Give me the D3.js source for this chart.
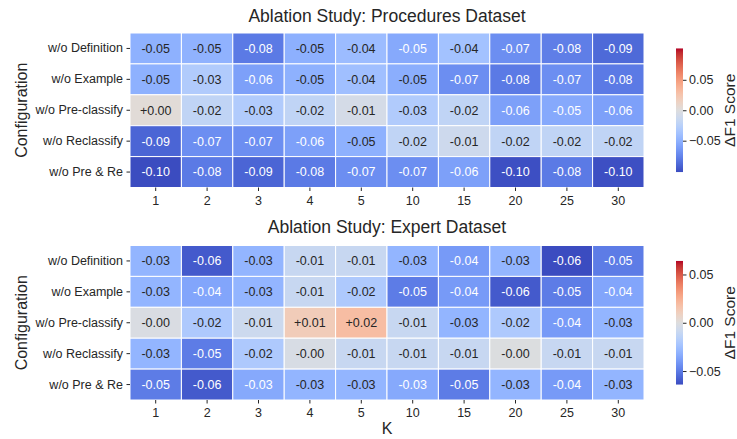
<!DOCTYPE html>
<html>
<head>
<meta charset="utf-8">
<script src="https://cdn.jsdelivr.net/npm/d3@7"></script>
<style>
  body { margin: 0; background: #fff; }
  svg { font-family: "Liberation Sans", Arial, sans-serif; }
  .tick text { fill: #262626; }
  .tick line { stroke: #262626; }
</style>
</head>
<body>
<div id="chart"></div>
<script>
// K values on the x axis, configurations on the y axis
const kValues = [1, 2, 3, 4, 5, 10, 15, 20, 25, 30];
const configs = ["w/o Definition", "w/o Example", "w/o Pre-classify", "w/o Reclassify", "w/o Pre & Re"];

// delta F1 per configuration (rows) and K (columns)
const proceduresDelta = [
    [-0.050, -0.049, -0.080, -0.051, -0.042, -0.0548, -0.038, -0.070, -0.078, -0.088],
    [-0.050, -0.030, -0.060, -0.050, -0.040, -0.052, -0.070, -0.080, -0.070, -0.080],
    [0.003, -0.020, -0.030, -0.020, -0.007, -0.030, -0.020, -0.060, -0.0548, -0.060],
    [-0.090, -0.070, -0.070, -0.060, -0.050, -0.020, -0.012, -0.020, -0.020, -0.020],
    [-0.1015, -0.080, -0.090, -0.080, -0.070, -0.070, -0.060, -0.100, -0.080, -0.100]
];
const expertDelta = [
    [-0.030, -0.060, -0.030, -0.010, -0.010, -0.030, -0.040, -0.030, -0.064, -0.050],
    [-0.030, -0.036, -0.030, -0.010, -0.020, -0.050, -0.040, -0.060, -0.050, -0.036],
    [-0.002, -0.020, -0.008, 0.012, 0.019, -0.010, -0.030, -0.020, -0.040, -0.030],
    [-0.030, -0.050, -0.020, -0.003, -0.010, -0.010, -0.010, -0.001, -0.010, -0.010],
    [-0.050, -0.060, -0.0347, -0.030, -0.030, -0.0347, -0.050, -0.030, -0.040, -0.030]
];
const titles = ["Ablation Study: Procedures Dataset", "Ablation Study: Expert Dataset"];
const cbTicks = [-0.05, 0, 0.05];

// matplotlib "coolwarm" colormap (33 control points)
const coolwarm = [
    [0.2298, 0.2987, 0.7537], [0.2662, 0.3531, 0.8015], [0.3039, 0.4065, 0.8450], [0.3428, 0.4588, 0.8837],
    [0.3830, 0.5094, 0.9174], [0.4244, 0.5581, 0.9456], [0.4667, 0.6046, 0.9682], [0.5096, 0.6483, 0.9848],
    [0.5530, 0.6889, 0.9954], [0.5963, 0.7261, 0.9998], [0.6392, 0.7596, 0.9982], [0.6813, 0.7890, 0.9904],
    [0.7222, 0.8140, 0.9766], [0.7615, 0.8343, 0.9569], [0.7987, 0.8498, 0.9317], [0.8335, 0.8602, 0.9011],
    [0.8654, 0.8654, 0.8654], [0.8978, 0.8489, 0.8209], [0.9241, 0.8274, 0.7745], [0.9445, 0.8009, 0.7267],
    [0.9589, 0.7698, 0.6780], [0.9673, 0.7341, 0.6288], [0.9700, 0.6943, 0.5794], [0.9668, 0.6504, 0.5303],
    [0.9580, 0.6028, 0.4818], [0.9437, 0.5518, 0.4342], [0.9239, 0.4973, 0.3880], [0.8990, 0.4396, 0.3432],
    [0.8692, 0.3783, 0.3003], [0.8346, 0.3129, 0.2593], [0.7956, 0.2413, 0.2205], [0.7525, 0.1572, 0.1841],
    [0.7057, 0.0156, 0.1502]
];
const cwColors = coolwarm.map(c => d3.rgb(c[0] * 255, c[1] * 255, c[2] * 255).formatHex());
const cwInterp = d3.scaleLinear()
    .domain(cwColors.map((_, i) => i / (cwColors.length - 1)))
    .range(cwColors)
    .interpolate(d3.interpolateRgb)
    .clamp(true);

// seaborn style annotation colour
function relLum(c) {
    const f = v => { v /= 255; return v <= 0.03928 ? v / 12.92 : Math.pow((v + 0.055) / 1.055, 2.4); };
    return 0.2126 * f(c.r) + 0.7152 * f(c.g) + 0.0722 * f(c.b);
}

const fmtCell = d3.formatLocale({ decimal: ".", thousands: ",", grouping: [3], currency: ["$", ""], minus: "-" }).format("+.2f");
const fmtTick = d3.format(".2f");

const width = 737, height = 439;
const svg = d3.select("#chart").append("svg")
    .attr("width", width)
    .attr("height", height);

const panels = [
    { data: proceduresDelta, top: 33, bottom: 187.5, titleY: 22, showK: false },
    { data: expertDelta, top: 245.5, bottom: 400, titleY: 233, showK: true }
];

const x = d3.scaleBand().domain(kValues).range([130, 644]);

panels.forEach((p, pi) => {
    const flat = p.data.flat();
    const vr = Math.max(Math.abs(d3.min(flat)), Math.abs(d3.max(flat)));
    const color = v => cwInterp((v + vr) / (2 * vr));

    const y = d3.scaleBand().domain(configs).range([p.top, p.bottom]);
    const g = svg.append("g");

    const cells = [];
    p.data.forEach((row, ri) => row.forEach((v, ci) => cells.push({ conf: configs[ri], k: kValues[ci], v })));

    g.selectAll("rect.cell")
        .data(cells)
        .enter().append("rect")
        .attr("class", "cell")
        .attr("x", d => x(d.k))
        .attr("y", d => y(d.conf))
        .attr("width", x.bandwidth())
        .attr("height", y.bandwidth())
        .attr("fill", d => color(d.v))
        .attr("stroke", "#fff")
        .attr("stroke-width", 1);

    g.selectAll("text.ann")
        .data(cells)
        .enter().append("text")
        .attr("class", "ann")
        .attr("x", d => x(d.k) + x.bandwidth() / 2)
        .attr("y", d => y(d.conf) + y.bandwidth() / 2)
        .attr("dy", "0.35em")
        .attr("text-anchor", "middle")
        .style("font-size", "12.5px")
        .attr("fill", d => relLum(d3.rgb(color(d.v))) > 0.408 ? "#262626" : "#ffffff")
        .text(d => fmtCell(d.v));

    // axes
    const xAxis = g.append("g")
        .attr("transform", `translate(0,${p.bottom})`)
        .call(d3.axisBottom(x).tickSize(3.5).tickPadding(5));
    xAxis.select(".domain").remove();
    xAxis.selectAll("text").style("font-size", "12.5px");

    const yAxis = g.append("g")
        .attr("transform", "translate(130,0)")
        .call(d3.axisLeft(y).tickSize(3.5).tickPadding(3.5));
    yAxis.select(".domain").remove();
    yAxis.selectAll("text").style("font-size", "12.5px");

    svg.append("text")
        .attr("x", (x.range()[0] + x.range()[1]) / 2)
        .attr("y", p.titleY)
        .attr("text-anchor", "middle")
        .attr("fill", "#262626")
        .style("font-size", "17.5px")
        .text(titles[pi]);

    svg.append("text")
        .attr("transform", `translate(27,${(p.top + p.bottom) / 2}) rotate(-90)`)
        .attr("text-anchor", "middle")
        .attr("fill", "#262626")
        .style("font-size", "16px")
        .text("Configuration");

    if (p.showK) {
        svg.append("text")
            .attr("x", (x.range()[0] + x.range()[1]) / 2)
            .attr("y", 434)
            .attr("text-anchor", "middle")
            .attr("fill", "#262626")
            .style("font-size", "16px")
            .text("K");
    }

    // colorbar (80% of heatmap height, centred)
    const hh = p.bottom - p.top;
    const cbTop = p.top + hh * 0.1, cbBot = p.bottom - hh * 0.1;
    const cbX = 676, cbW = 7;
    const gradId = "cbgrad" + pi;
    const grad = svg.append("defs").append("linearGradient")
        .attr("id", gradId)
        .attr("x1", 0).attr("y1", 1).attr("x2", 0).attr("y2", 0);
    grad.selectAll("stop")
        .data(cwColors)
        .enter().append("stop")
        .attr("offset", (_, i) => i / (cwColors.length - 1))
        .attr("stop-color", c => c);
    svg.append("rect")
        .attr("x", cbX)
        .attr("y", cbTop)
        .attr("width", cbW)
        .attr("height", cbBot - cbTop)
        .attr("fill", `url(#${gradId})`);

    const cbScale = d3.scaleLinear().domain([-vr, vr]).range([cbBot, cbTop]);
    const cbAxis = svg.append("g")
        .attr("transform", `translate(${cbX + cbW},0)`)
        .call(d3.axisRight(cbScale).tickValues(cbTicks).tickFormat(fmtTick).tickSize(3.5).tickPadding(2.5));
    cbAxis.select(".domain").remove();
    cbAxis.selectAll("text").style("font-size", "12.5px");

    svg.append("text")
        .attr("transform", `translate(735,${(cbTop + cbBot) / 2}) rotate(-90)`)
        .attr("text-anchor", "middle")
        .attr("fill", "#262626")
        .style("font-size", "15.5px")
        .text("ΔF1 Score");
});
</script>
</body>
</html>
